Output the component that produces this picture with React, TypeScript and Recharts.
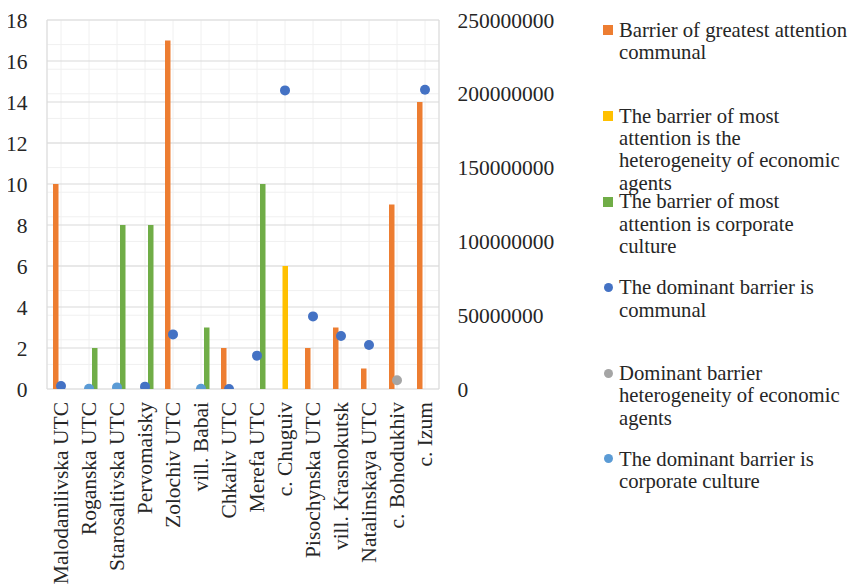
import React from 'react';
import { ComposedChart, Bar, Line, XAxis, YAxis, CartesianGrid, Legend } from 'recharts';

const categories = [
  'Malodanilivska UTC', 'Roganska UTC', 'Starosaltivska UTC', 'Pervomaisky', 'Zolochiv UTC',
  'vill. Babai', 'Chkaliv UTC', 'Merefa UTC', 'c. Chuguiv', 'Pisochynska UTC',
  'vill. Krasnokutsk', 'Natalinskaya UTC', 'c. Bohodukhiv', 'c. Izum',
];

const communalAttention = [10, null, null, null, 17, null, 2, null, null, 2, 3, 1, 9, 14];
const heteroAttention = [null, null, null, null, null, null, null, null, 6, null, null, null, null, null];
const corporateAttention = [null, 2, 8, 8, null, 3, null, 10, null, null, null, null, null, null];

const communalDominant = [2000000, null, null, 1600000, 37000000, null, 0, 22600000, 202300000, 49200000, 35900000, 29800000, null, 202800000];
const heteroDominant = [null, null, null, null, null, null, null, null, null, null, null, null, 5900000, null];
const corporateDominant = [null, 200000, 1100000, null, null, 200000, null, null, null, null, null, null, null, null];

const leftTicks = [0, 2, 4, 6, 8, 10, 12, 14, 16, 18];
const rightTicks = [0, 50000000, 100000000, 150000000, 200000000, 250000000];
const boundTicks = [0, 1, 2, 3, 4, 5, 6, 7, 8, 9, 10, 11, 12, 13, 14];
const minorTicks = Array.from({ length: 46 }, (_, i) => Math.round(i * 0.4 * 10) / 10);

const seriesOrder = ['ca', 'ha', 'co', 'cd', 'hd', 'kd'];

const seriesNames = {
  ca: 'Barrier of greatest attention\ncommunal',
  ha: 'The barrier of most\nattention is the\nheterogeneity of economic\nagents',
  co: 'The barrier of most\nattention is corporate\nculture',
  cd: 'The dominant barrier is\ncommunal',
  hd: 'Dominant barrier\nheterogeneity of economic\nagents',
  kd: 'The dominant barrier is\ncorporate culture',
};

const colors = {
  ca: '#ED7D31',
  ha: '#FFC000',
  co: '#70AD47',
  cd: '#4472C4',
  hd: '#A5A5A5',
  kd: '#5B9BD5',
};

const data = categories.map((name, i) => ({
  name,
  ca: communalAttention[i],
  ha: heteroAttention[i],
  co: corporateAttention[i],
  cd: communalDominant[i],
  hd: heteroDominant[i],
  kd: corporateDominant[i],
}));

const FONT = "'Liberation Serif', 'DejaVu Serif'";
const TEXT = '#262626';
const FS = 21.5;
const LFS = 20.7;

const XTick = (props: any) => {
  const { x, y, payload } = props;
  return (
    <g transform={`translate(${x},${y + 13})`}>
      <text
        transform="rotate(-90)"
        textAnchor="end"
        dominantBaseline="central"
        fontFamily={FONT}
        fontSize={FS}
        fill={TEXT}
      >
        {payload.value}
      </text>
    </g>
  );
};

const LegendContent = (props: any) => {
  const { payload } = props;
  const items = seriesOrder
    .map((k) => (payload || []).find((p: any) => p.dataKey === k))
    .filter(Boolean);
  return (
    <div style={{ position: 'relative', width: 258, height: 520, fontFamily: FONT, fontSize: LFS, color: TEXT }}>
      {items.map((entry: any, i: number) => {
        const key = entry.dataKey as keyof typeof colors;
        const color = colors[key];
        const isCircle = key === 'cd' || key === 'hd' || key === 'kd';
        return (
          <div key={key} style={{ position: 'absolute', left: 0, top: i * 85.8, width: 258 }}>
            <div
              style={{
                position: 'absolute',
                left: isCircle ? 5.5 : 5,
                top: isCircle ? 6.65 : 6.15,
                width: isCircle ? 9 : 10,
                height: isCircle ? 9 : 10,
                borderRadius: isCircle ? '50%' : 0,
                background: color,
              }}
            />
            <div style={{ position: 'absolute', left: 21, top: 0, whiteSpace: 'pre', lineHeight: '22.3px' }}>
              {entry.value}
            </div>
          </div>
        );
      })}
    </div>
  );
};

export default function App() {
  return (
    <div style={{ width: 856, height: 585, margin: '-8px 0 0 -8px', overflow: 'hidden', position: 'relative' }}>
      <ComposedChart
        width={856}
        height={585}
        data={data}
        margin={{ top: 20, right: 39, bottom: 0, left: 0 }}
        barGap={0}
        barSize={5.5}
      >
        <XAxis xAxisId="bounds" type="number" domain={[0, 14]} ticks={boundTicks} height={0}
          axisLine={false} tick={false} tickLine={{ stroke: '#d9d9d9' }} tickSize={6} allowDataOverflow />
        <XAxis xAxisId="cat" dataKey="name" type="category" height={196} interval={0}
          axisLine={false} tickLine={false} tickSize={0} tickMargin={0} tick={<XTick />} padding={{ left: 0, right: 0 }} />
        <YAxis yAxisId="minor" hide domain={[0, 18]} ticks={minorTicks} allowDataOverflow />
        <YAxis yAxisId="left" orientation="left" width={47} domain={[0, 18]} ticks={leftTicks}
          axisLine={false} tickLine={false} tickSize={0} tickMargin={19.5}
          tick={{ fontFamily: FONT, fontSize: FS, fill: TEXT }} allowDataOverflow />
        <YAxis yAxisId="right" orientation="right" width={120} domain={[0, 250000000]} ticks={rightTicks}
          axisLine={false} tickLine={false} tickSize={0} tickMargin={18.5}
          tick={{ fontFamily: FONT, fontSize: FS, fill: TEXT }} allowDataOverflow />
        <CartesianGrid xAxisId="cat" yAxisId="minor" stroke="#f0f0f0" strokeWidth={1} />
        <CartesianGrid xAxisId="bounds" yAxisId="left" stroke="#d9d9d9" strokeWidth={1} />
        <Legend
          layout="vertical"
          align="right"
          verticalAlign="top"
          wrapperStyle={{ left: 598, top: 18.85, width: 258 }}
          content={<LegendContent />}
        />
        <Bar xAxisId="cat" yAxisId="left" dataKey="ca" name={seriesNames.ca} fill={colors.ca} legendType="square" isAnimationActive={false} />
        <Bar xAxisId="cat" yAxisId="left" dataKey="ha" name={seriesNames.ha} fill={colors.ha} legendType="square" isAnimationActive={false} />
        <Bar xAxisId="cat" yAxisId="left" dataKey="co" name={seriesNames.co} fill={colors.co} legendType="square" isAnimationActive={false} />
        <Line xAxisId="cat" yAxisId="right" dataKey="cd" name={seriesNames.cd} stroke="none" strokeWidth={0}
          dot={{ r: 5, fill: colors.cd, stroke: 'none' }} activeDot={false} legendType="circle" isAnimationActive={false} />
        <Line xAxisId="cat" yAxisId="right" dataKey="hd" name={seriesNames.hd} stroke="none" strokeWidth={0}
          dot={{ r: 5, fill: colors.hd, stroke: 'none' }} activeDot={false} legendType="circle" isAnimationActive={false} />
        <Line xAxisId="cat" yAxisId="right" dataKey="kd" name={seriesNames.kd} stroke="none" strokeWidth={0}
          dot={{ r: 5, fill: colors.kd, stroke: 'none' }} activeDot={false} legendType="circle" isAnimationActive={false} />
      </ComposedChart>
    </div>
  );
}
